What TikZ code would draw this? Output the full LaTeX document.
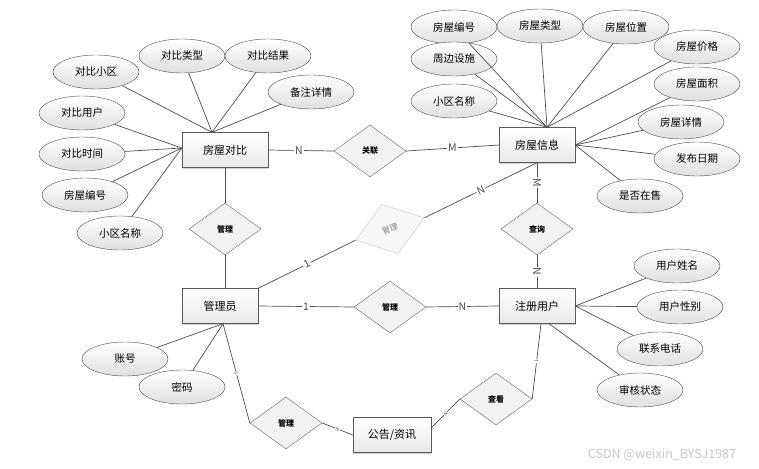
\documentclass[tikz,border=0pt]{standalone}
\usepackage{fontspec}
\setmainfont{Noto Sans CJK SC}
\usetikzlibrary{shapes.geometric, calc, shadows}

\begin{document}
\begin{tikzpicture}[
	x=1pt, y=-1pt,
	attr node/.style={ellipse, draw=black!70, top color=white, bottom color=gray!25, minimum width=86pt, minimum height=34pt, inner sep=0pt, font=\fontsize{10.5}{12}\selectfont},
	entity box/.style={rectangle, draw=black!65, top color=white, bottom color=gray!18, minimum width=76pt, minimum height=35pt, inner sep=0pt, font=\fontsize{11}{13}\selectfont, drop shadow={shadow xshift=1pt, shadow yshift=-1pt, opacity=0.35}},
	rel diamond/.style={diamond, draw=black!60, fill=gray!10, minimum width=72pt, minimum height=52pt, inner sep=0pt, font=\fontsize{8}{9}\selectfont\bfseries},
	link/.style={black!70, line width=0.7pt},
	card label/.style={fill=white, inner sep=1pt, font=\fontsize{10.5}{11}\selectfont},
	tiny label/.style={fill=white, inner sep=0.5pt, sloped, font=\fontsize{5}{5}\selectfont},
	]
	\useasboundingbox (0,0) rectangle (759,468);
	
	% House comparison and its attributes
	\node[entity box, minimum width=86pt] (hc) at (225,150) {房屋对比};
	\node[attr node] (hcArea) at (96,72) {对比小区};
	\node[attr node] (hcType) at (182,56) {对比类型};
	\node[attr node] (hcResult) at (268,56) {对比结果};
	\node[attr node] (hcNote) at (311,92) {备注详情};
	\node[attr node] (hcUser) at (82,113) {对比用户};
	\node[attr node] (hcTime) at (82,154) {对比时间};
	\node[attr node] (hcNo) at (85,195) {房屋编号};
	\node[attr node] (hcName) at (120,233) {小区名称};
	
	% House info and its attributes
	\node[entity box] (hi) at (537,145) {房屋信息};
	\node[attr node] (hiNo) at (454,27) {房屋编号};
	\node[attr node] (hiType) at (540,26) {房屋类型};
	\node[attr node] (hiLoc) at (626,27) {房屋位置};
	\node[attr node] (hiFac) at (454,59) {周边设施};
	\node[attr node] (hiName) at (454,101) {小区名称};
	\node[attr node] (hiPrice) at (697,47) {房屋价格};
	\node[attr node] (hiSize) at (697,84) {房屋面积};
	\node[attr node] (hiDetail) at (681,122) {房屋详情};
	\node[attr node] (hiDate) at (697,159) {发布日期};
	\node[attr node] (hiSale) at (640,196) {是否在售};
	
	% Registered user
	\node[entity box] (reg) at (537,306) {注册用户};
	\node[attr node] (regName) at (677,266) {用户姓名};
	\node[attr node] (regSex) at (680,307) {用户性别};
	\node[attr node] (regTel) at (660,349) {联系电话};
	\node[attr node] (regState) at (640,390) {审核状态};
	
	% Admin and notice
	\node[entity box] (adm) at (220,306) {管理员};
	\node[attr node] (admAcc) at (125,359) {账号};
	\node[attr node] (admPwd) at (182,387) {密码};
	\node[entity box, minimum width=78pt] (nt) at (392,435) {公告/资讯};
	
	% Relations
	\node[rel diamond] (rl) at (370,151) {关联};
	\node[rel diamond] (mgA) at (225,229) {管理};
	\node[rel diamond, rotate=18, draw=gray!45, fill=gray!6, text=gray, font=\fontsize{8}{9}\selectfont] (mgB) at (390,229) {管理};
	\node[rel diamond] (cx) at (537,229) {查询};
	\node[rel diamond] (mgC) at (390,307) {管理};
	\node[rel diamond] (mgD) at (286,423) {管理};
	\node[rel diamond] (vw) at (496,399) {查看};
	
	% Joining points
	\coordinate (hcT) at ($(hc.north)+(-13,0)$);
	\coordinate (hcL) at ($(hc.west)+(0,-2)$);
	\coordinate (hiT) at ($(hi.north)+(10,0)$);
	\coordinate (admB) at ($(adm.south)+(3,0)$);
	\coordinate (regB) at ($(reg.south)+(12,0)$);
	\coordinate (regS) at ($(reg.south)+(4,0)$);
	\coordinate (ntR) at ($(nt.east)+(0,-7)$);
	
	% Attribute links
	\foreach \a in {hcArea, hcType, hcResult, hcNote}
		\draw[link] (\a) -- (hcT);
	\foreach \a in {hcUser, hcTime, hcNo, hcName}
		\draw[link] (\a) -- (hcL);
	\foreach \a in {hiNo, hiType, hiLoc, hiFac, hiName, hiPrice}
		\draw[link] (\a) -- (hiT);
	\foreach \a in {hiSize, hiDetail, hiDate, hiSale}
		\draw[link] (\a) -- (hi.east);
	\foreach \a in {regName, regSex, regTel}
		\draw[link] (\a) -- (reg.east);
	\draw[link] (regState) -- (regB);
	\foreach \a in {admAcc, admPwd}
		\draw[link] (\a) -- (admB);
	
	% Relation links
	\draw[link] (hc.east) -- node[card label, pos=0.47] {N} (rl.west);
	\draw[link] (rl.east) -- node[card label] {M} (hi.west);
	\draw[link] (hc.south) -- (mgA.north);
	\draw[link] (mgA.south) -- (mgA.south |- adm.north);
	\draw[link] (adm.north east) -- node[card label, sloped] {1} (mgB.west);
	\draw[link] (mgB.east) -- node[card label, sloped] {N} (hi.south);
	\draw[link] (hi.south) -- node[card label, sloped] {M} (cx.north);
	\draw[link] (cx.south) -- node[card label, sloped] {N} (reg.north);
	\draw[link] (adm.east) -- node[card label] {1} (mgC.west);
	\draw[link] (mgC.east) -- node[card label] {N} (reg.west);
	\draw[link] (admB) -- node[tiny label] {1} (mgD.west);
	\draw[link] (mgD.east) -- node[tiny label] {N} (nt.west);
	\draw[link] (ntR) -- node[tiny label] {N} (vw.west);
	\draw[link] (vw.east) -- node[tiny label] {1} (regS);
	
	\node[text=gray!45, font=\fontsize{12.5}{14}\selectfont] (mark) at (662,455) {CSDN @weixin\_BYSJ1987};
	
\end{tikzpicture}
\end{document}
